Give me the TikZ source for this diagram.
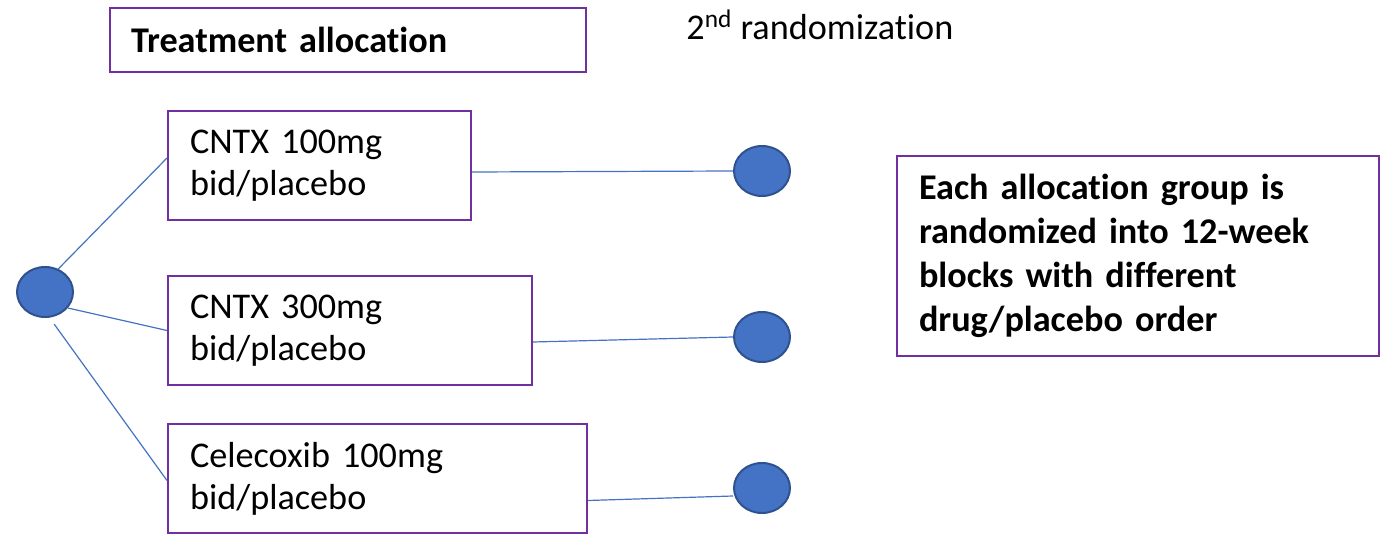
\documentclass[tikz,border=0pt]{standalone}
\usepackage{fontspec}
\setmainfont{Carlito}[Ligatures=NoCommon]
\usepackage{tikz}
\usetikzlibrary{shapes.geometric}
\definecolor{boxpurple}{HTML}{7030A0}
\definecolor{dotblue}{HTML}{4472C4}
\definecolor{dotedge}{HTML}{2F528F}
\newcommand{\armfont}{\fontsize{18.1}{21}\selectfont}
\newcommand{\notefont}{\fontsize{18.1}{22}\selectfont\bfseries}

\begin{document}
\begin{tikzpicture}[x=0.5pt,y=-0.5pt,
				   every node/.style={inner sep=0pt},
				   armbox/.style={draw=boxpurple, line width=1pt, anchor=north west, minimum height=54.5pt, inner xsep=11pt, align=left, font=\armfont},
				   dot/.style={ellipse, draw=dotedge, line width=1pt, fill=dotblue, minimum width=28pt, minimum height=25pt},
				   link/.style={draw=dotblue, line width=0.6pt}]
\useasboundingbox (0,0) rectangle (1383,534);

\node[armbox, text width=217pt, minimum height=32pt, inner xsep=10.5pt, font=\notefont] (alloc) at (109,7) {Treatment allocation};
\node[anchor=west, font=\armfont] (rand2) at (686,25) {2\textsuperscript{nd} randomization};

\node[armbox, text width=129.5pt] (arm1) at (167,110) {CNTX 100mg\\bid/placebo};
\node[armbox, text width=160pt] (arm2) at (167,275) {CNTX 300mg\\bid/placebo};
\node[armbox, text width=187.5pt] (arm3) at (167,423) {Celecoxib 100mg\\bid/placebo};
\node[armbox, text width=219pt, minimum height=100pt, font=\notefont] (note) at (896,155)
	{Each allocation group is\\randomized into 12-week\\blocks with different\\drug/placebo order};

\node[dot] (start) at (45,292) {};
\node[dot] (end1) at (762,171) {};
\node[dot] (end2) at (762,337) {};
\node[dot] (end3) at (762,488) {};

\draw[link] (start.60) -- ([yshift=3.75pt]arm1.west);
\draw[link] (start.-35) -- (arm2.west);
\draw[link, shorten <=4pt] (start.-80) -- ([yshift=-1pt]arm3.west);
\draw[link] ([yshift=-3.25pt]arm1.east) -- (end1.west);
\draw[link] ([yshift=-5.75pt]arm2.east) -- (end2.west);
\draw[link] ([yshift=-11pt]arm3.east) -- ([yshift=-4pt]end3.west);

\end{tikzpicture}
\end{document}
